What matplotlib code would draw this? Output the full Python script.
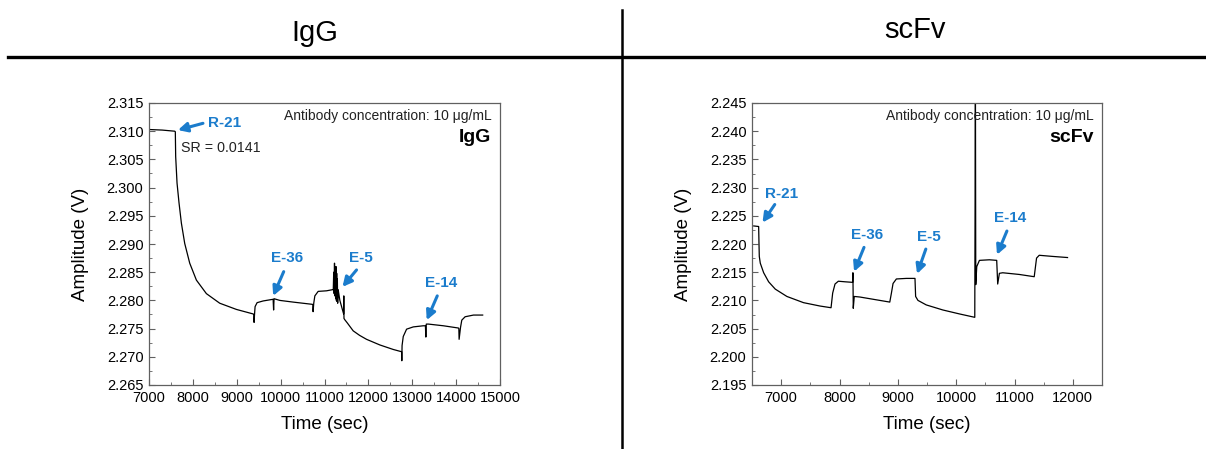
import numpy as np
import matplotlib
matplotlib.use("Agg")
import matplotlib.pyplot as plt
from matplotlib.ticker import MultipleLocator

plt.rcParams['font.family'] = ['Liberation Sans', 'DejaVu Sans']

BLUE = '#1b7ccc'
SPINE = '#606060'

# IgG trace (time in sec, amplitude in V)
igg_t = [7000, 7300, 7586, 7600, 7608, 7639, 7684, 7738, 7814, 7928, 8080, 8308,
         8612, 8992, 9373, 9390, 9395, 9405, 9418, 9464, 9601, 9829, 9840, 9850,
         9981, 10285, 10726, 10735, 10740, 10755, 10780, 10856, 11046, 11183,
         11200, 11210, 11220, 11228, 11235, 11245, 11255, 11262, 11270, 11278,
         11285, 11293, 11300, 11312, 11350, 11400, 11436, 11440, 11444, 11460,
         11520, 11654, 11800, 11958, 12262, 12567, 12757, 12762, 12768, 12795,
         12871, 13023, 13251, 13300, 13310, 13320, 13369, 13711, 14053, 14062,
         14068, 14100, 14129, 14205, 14395, 14605]
igg_v = [2.3103, 2.3102, 2.3100, 2.3099, 2.3055, 2.3008, 2.2973, 2.2937, 2.2901,
         2.2866, 2.2836, 2.2812, 2.2795, 2.2784, 2.2776, 2.2775, 2.2761, 2.2775,
         2.2789, 2.2796, 2.2799, 2.2802, 2.2783, 2.2803, 2.2800, 2.2797, 2.2793,
         2.2792, 2.2780, 2.2795, 2.2808, 2.2816, 2.2817, 2.2819, 2.2819, 2.2850,
         2.2812, 2.2866, 2.2808, 2.2855, 2.2804, 2.2860, 2.2800, 2.2848, 2.2798,
         2.2838, 2.2795, 2.2819, 2.2800, 2.2786, 2.2776, 2.2808, 2.2768, 2.2766,
         2.2760, 2.2746, 2.2738, 2.2731, 2.2721, 2.2713, 2.2709, 2.2693, 2.2720,
         2.2736, 2.2749, 2.2753, 2.2755, 2.2755, 2.2735, 2.2758, 2.2758, 2.2755,
         2.2751, 2.2750, 2.2731, 2.2752, 2.2765, 2.2771, 2.2774, 2.2774]

# scFv trace
scfv_t = [6530, 6614, 6620, 6625, 6642, 6700, 6785, 6899, 7098, 7383, 7667, 7855,
          7883, 7923, 7980, 8094, 8225, 8230, 8236, 8253, 8349, 8634, 8862, 8890,
          8918, 8975, 9146, 9294, 9305, 9345, 9487, 9772, 10057, 10319, 10330,
          10336, 10353, 10399, 10570, 10695, 10712, 10741, 10798, 11082, 11338,
          11378, 11424, 11652, 11909]
scfv_v = [2.2232, 2.2231, 2.2200, 2.2178, 2.2166, 2.2149, 2.2133, 2.2120, 2.2107,
          2.2096, 2.2090, 2.2087, 2.2113, 2.2129, 2.2134, 2.2133, 2.2132, 2.2149,
          2.2086, 2.2107, 2.2106, 2.2101, 2.2097, 2.2113, 2.2130, 2.2138, 2.2139,
          2.2139, 2.2107, 2.2100, 2.2092, 2.2083, 2.2076, 2.2070, 2.2500, 2.2128,
          2.2160, 2.2171, 2.2172, 2.2171, 2.2129, 2.2148, 2.2149, 2.2146, 2.2142,
          2.2175, 2.2180, 2.2178, 2.2176]

# arrow labels: (label, text x, text y, arrow tail x, tail y, head x, head y)
igg_marks = [('R-21', 8350, 2.3114, 8230, 2.3114, 7660, 2.3102),
             ('E-36', 10150, 2.2875, 10070, 2.2851, 9830, 2.2808),
             ('E-5', 11830, 2.2875, 11730, 2.2854, 11410, 2.2824),
             ('E-14', 13650, 2.2830, 13570, 2.2808, 13330, 2.2765)]
scfv_marks = [('R-21', 7010, 2.2289, 6890, 2.2270, 6680, 2.2238),
              ('E-36', 8480, 2.2216, 8420, 2.2194, 8250, 2.2151),
              ('E-5', 9540, 2.2213, 9480, 2.2191, 9330, 2.2147),
              ('E-14', 10930, 2.2246, 10870, 2.2223, 10700, 2.2181)]

fig = plt.figure(figsize=(12.06, 4.49), dpi=100)

# header lines and column titles
fig.add_artist(plt.Line2D([8/1206, 1], [1 - 57/449, 1 - 57/449], color='black', lw=2.4))
fig.add_artist(plt.Line2D([622/1206, 622/1206], [0, 1 - 10/449], color='black', lw=1.8))
fig.text(315/1206, 1 - 33/449, 'IgG', ha='center', va='center', fontsize=21,
         family=['Liberation Sans Narrow', 'Liberation Sans'])
fig.text(915/1206, 1 - 30/449, 'scFv', ha='center', va='center', fontsize=21,
         family=['Liberation Sans Narrow', 'Liberation Sans'])


def panel(rect, t, v, xlim, xticks, ylim, marks, name, sr=None):
    ax = fig.add_axes(rect)
    ax.plot(t, v, color='black', lw=0.9)
    ax.set_xlim(*xlim)
    ax.set_ylim(*ylim)
    ax.set_xticks(xticks)
    ax.xaxis.set_minor_locator(MultipleLocator(500))
    ax.yaxis.set_major_locator(MultipleLocator(0.005))
    ax.yaxis.set_minor_locator(MultipleLocator(0.0025))
    ax.yaxis.set_major_formatter(matplotlib.ticker.FormatStrFormatter('%.3f'))
    ax.tick_params(which='both', direction='in', top=False, right=False,
                   color=SPINE, labelsize=10.5)
    ax.tick_params(axis='x', which='both', pad=4.5)
    ax.tick_params(axis='y', which='both', pad=4)
    ax.tick_params(which='major', length=4)
    ax.tick_params(which='minor', length=2.5)
    for s in ax.spines.values():
        s.set_color(SPINE)
        s.set_linewidth(0.9)
    ax.set_xlabel('Time (sec)', fontsize=13.5, labelpad=8)
    ax.set_ylabel('Amplitude (V)', fontsize=13.5, labelpad=13)
    for lab, tx, ty, ax0, ay0, hx, hy in marks:
        ax.annotate('', xy=(hx, hy), xytext=(ax0, ay0),
                    arrowprops=dict(arrowstyle='-|>,head_length=0.55,head_width=0.28',
                                    color=BLUE, lw=2.2, shrinkA=0, shrinkB=0))
        ha = 'left' if lab == 'R-21' and sr is not None else 'center'
        ax.text(tx, ty, lab, color=BLUE, fontsize=11, fontweight='bold',
                ha=ha, va='center')
    ax.text(0.976, 0.953, 'Antibody concentration: 10 μg/mL', transform=ax.transAxes,
            ha='right', va='center', fontsize=10, color='#222222')
    ax.text(0.976, 0.876, name, transform=ax.transAxes, ha='right', va='center',
            fontsize=14, fontweight='bold')
    if sr is not None:
        ax.text(7740, 2.3070, sr, ha='left', va='center', fontsize=10.3, color='#222222')
    return ax


panel([149/1206, 64/449, 351/1206, 282/449], igg_t, igg_v, (7000, 15000),
      range(7000, 15001, 1000), (2.265, 2.315), igg_marks, 'IgG', 'SR = 0.0141')
panel([752/1206, 64/449, 350/1206, 282/449], scfv_t, scfv_v, (6500, 12500),
      range(7000, 12001, 1000), (2.195, 2.245), scfv_marks, 'scFv')

fig.savefig('out.png', dpi=100)
